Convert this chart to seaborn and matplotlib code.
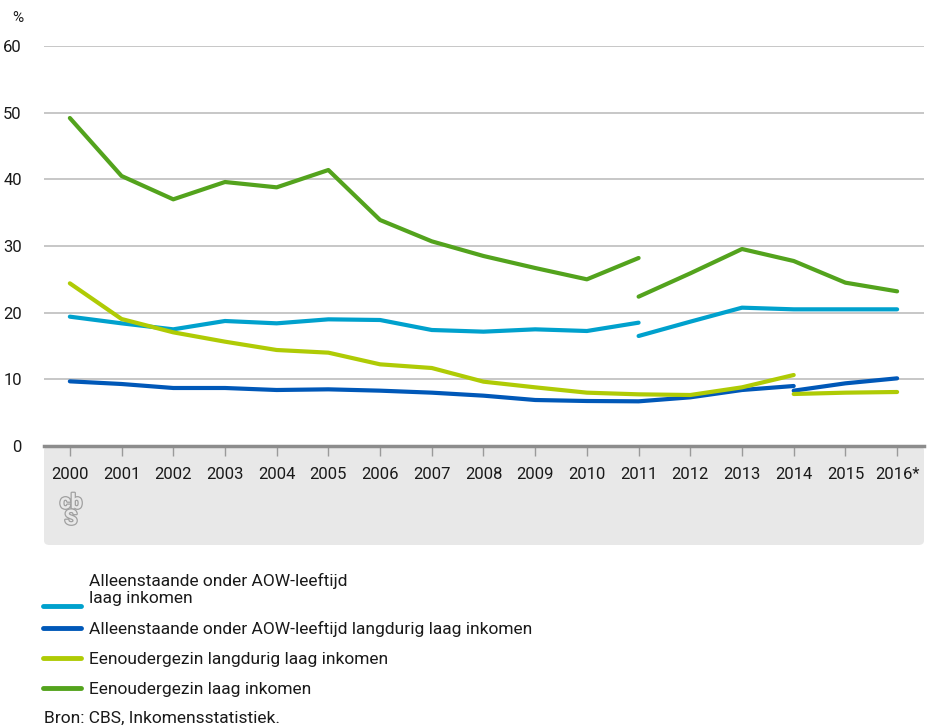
import matplotlib
matplotlib.use("Agg")
import matplotlib.pyplot as plt
import matplotlib.patheffects as pe
from matplotlib.patches import FancyBboxPatch
from matplotlib.lines import Line2D
from matplotlib.legend_handler import HandlerLine2D
import numpy as np
import pandas as pd
import seaborn as sns

# Data, breaks in the series in 2011 and 2014
jaren_a = list(range(2000, 2012))
jaren_b = list(range(2011, 2017))
jaren_c = list(range(2000, 2015))
jaren_d = list(range(2014, 2017))
jaar_labels = [str(j) for j in range(2000, 2016)] + ["2016*"]

alleen_laag_a = [19.4, 18.4, 17.5, 18.75, 18.4, 19.0, 18.9, 17.4, 17.15, 17.5, 17.25, 18.5]
alleen_laag_b = [16.5, 18.65, 20.75, 20.5, 20.5, 20.5]

alleen_lang_a = [9.7, 9.3, 8.7, 8.7, 8.4, 8.5, 8.3, 8.0, 7.55, 6.9, 6.75, 6.7, 7.3, 8.4, 9.0]
alleen_lang_b = [8.3, 9.4, 10.15]

eenouder_lang_a = [24.4, 19.05, 17.05, 15.65, 14.4, 14.0, 12.25, 11.7, 9.65, 8.8, 8.0, 7.75, 7.65, 8.8, 10.65]
eenouder_lang_b = [7.8, 8.0, 8.1]

eenouder_laag_a = [49.2, 40.5, 37.0, 39.6, 38.8, 41.4, 33.9, 30.7, 28.5, 26.7, 25.0, 28.2]
eenouder_laag_b = [22.4, 25.9, 29.55, 27.75, 24.5, 23.2]

labels = [
    "Alleenstaande onder AOW-leeftijd\nlaag inkomen",
    "Alleenstaande onder AOW-leeftijd langdurig laag inkomen",
    "Eenoudergezin langdurig laag inkomen",
    "Eenoudergezin laag inkomen",
]
kleuren = ["#00a1cd", "#0058b8", "#afcb05", "#53a31d"]


class HandlerOnder(HandlerLine2D):
    """Legendalijn naar beneden schuiven (bij label van twee regels)."""

    def __init__(self, dy=0, **kw):
        super().__init__(**kw)
        self.dy = dy

    def create_artists(self, legend, orig_handle, xdescent, ydescent, width,
                       height, fontsize, trans):
        return super().create_artists(legend, orig_handle, xdescent,
                                      ydescent + self.dy, width, height,
                                      fontsize, trans)


sns.set_theme(style="white")
plt.rcParams["font.family"] = ["Roboto", "DejaVu Sans"]

W, H = 927, 727
fig = plt.figure(figsize=(W / 100, H / 100), dpi=100)

# grijze band achter de x-as labels
band = FancyBboxPatch((44 / W, 1 - 545 / H), 880 / W, 99 / H,
                      boxstyle="round,pad=0,rounding_size=0.006",
                      transform=fig.transFigure, facecolor="#e8e8e8",
                      edgecolor="none", zorder=-5)
fig.patches.append(band)

ax = fig.add_axes([44 / W, 1 - 446 / H, 880 / W, 400 / H])
ax.set_zorder(2)
ax.set_facecolor("none")

series = [
    (jaren_a, alleen_laag_a, jaren_b, alleen_laag_b),
    (jaren_c, alleen_lang_a, jaren_d, alleen_lang_b),
    (jaren_c, eenouder_lang_a, jaren_d, eenouder_lang_b),
    (jaren_a, eenouder_laag_a, jaren_b, eenouder_laag_b),
]
for (xa, ya, xb, yb), kleur in zip(series, kleuren):
    for xs, ys in ((xa, ya), (xb, yb)):
        df = pd.DataFrame({"jaar": [x - 2000 for x in xs], "waarde": ys})
        sns.lineplot(data=df, x="jaar", y="waarde", color=kleur, lw=3,
                     ax=ax, legend=False, zorder=3)

ax.set_xlim(-0.5, 16.52)
ax.set_ylim(0, 60)
ax.set_yticks(range(0, 61, 10))
ax.set_xticks(range(17))
ax.set_xticklabels(jaar_labels)
ax.set_xlabel("")
ax.set_ylabel("")
ax.grid(axis="y", color="#bdbdbd", lw=1.2)
ax.grid(axis="x", visible=False)
for s in ["top", "right", "left"]:
    ax.spines[s].set_visible(False)
ax.spines["bottom"].set_color("#8c8c8c")
ax.spines["bottom"].set_linewidth(2.5)
ax.spines["bottom"].set_zorder(4)
ax.tick_params(axis="x", direction="out", length=7, width=1, color="#9a9a9a",
               pad=8, labelsize=12, labelcolor="#1a1a1a", bottom=True)
ax.tick_params(axis="y", length=0, pad=16, labelsize=12, labelcolor="#1a1a1a")

fig.text(12 / W, 1 - 18 / H, "%", fontsize=11, color="#1a1a1a", va="center")

# CBS-logo (vereenvoudigd)
fig.text(71 / W, 1 - 511 / H, "cb\nS", fontsize=15, ha="center", va="center",
         linespacing=0.8, color="#e8e8e8", fontweight="bold",
         path_effects=[pe.withStroke(linewidth=1.8, foreground="#a0a0a0")])

handles = [Line2D([], [], color=k, lw=3.5) for k in kleuren]
fig.legend(handles, labels, loc="upper left", bbox_to_anchor=(43 / W, 1 - 573 / H),
           frameon=False, fontsize=12.5, handlelength=2.2, handletextpad=0.45,
           labelspacing=0.85, borderaxespad=0, borderpad=0,
           labelcolor="#1a1a1a", handler_map={handles[0]: HandlerOnder(dy=24)})

fig.text(44 / W, 1 - 718 / H, "Bron: CBS, Inkomensstatistiek.", fontsize=12.5,
         color="#1a1a1a", va="center")

fig.savefig("out.png", dpi=100)
